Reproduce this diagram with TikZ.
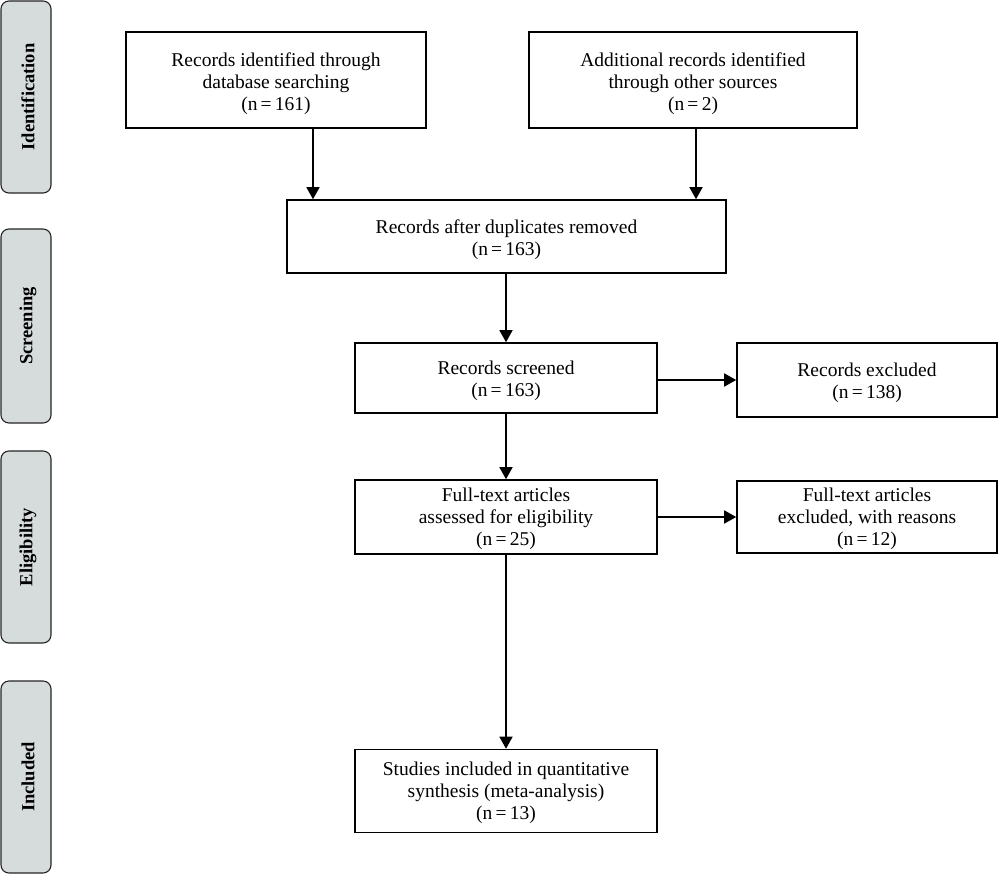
\documentclass[tikz,border=0pt]{standalone}
\usepackage{fontspec}
\setmainfont{Liberation Serif}
\usetikzlibrary{arrows.meta}
\definecolor{sidegray}{RGB}{214,220,220}
\begin{document}
\begin{tikzpicture}[x=1pt,y=-1pt,
  box/.style={draw=black,line width=1.6pt,rectangle,inner sep=0pt},
  boxtext/.style={align=center,inner sep=0pt,font=\fontsize{19.5}{22}\selectfont},
  side/.style={draw=black!85,line width=1.1pt,fill=sidegray,rounded corners=8pt,
    minimum width=50pt,inner sep=0pt},
  sidetext/.style={rotate=90,font=\fontsize{18.5}{21}\selectfont\bfseries},
  arr/.style={line width=1.6pt,-{Triangle[width=13pt,length=12pt]}}]
\useasboundingbox (0,0) rectangle (1000,875);
\fill[white] (0,0) rectangle (1000,875);
% side labels
\node[side,minimum height=192pt] (s1) at (26,97) {};
\node[sidetext] (t1) at ([xshift=2pt]s1.center) {Identification};
\node[side,minimum height=194pt] (s2) at (26,326) {};
\node[sidetext] (t2) at ([xshift=2pt]s2.center) {Screening};
\node[side,minimum height=192pt] (s3) at (26,547) {};
\node[sidetext] (t3) at ([xshift=2pt]s3.center) {Eligibility};
\node[side,minimum height=192pt] (s4) at (26,777) {};
\node[sidetext] (t4) at ([xshift=2pt]s4.center) {Included};
% boxes
\node[box,minimum width=300pt,minimum height=96pt] (b1) at (276,80) {};
\node[boxtext] (l1) at ([yshift=-4pt]b1.center)
  {Records identified through\\database searching\\(n\,=\,161)};
\node[box,minimum width=328pt,minimum height=96pt] (b2) at (693,80) {};
\node[boxtext] (l2) at ([yshift=-4pt]b2.center)
  {Additional records identified\\through other sources\\(n\,=\,2)};
\node[box,minimum width=439pt,minimum height=73pt] (b3) at (506.5,236.5) {};
\node[boxtext] (l3) at ([yshift=-3pt]b3.center)
  {Records after duplicates removed\\(n\,=\,163)};
\node[box,minimum width=302pt,minimum height=70pt] (b4) at (506,378) {};
\node[boxtext] (l4) at ([yshift=-3pt]b4.center)
  {Records screened\\(n\,=\,163)};
\node[box,minimum width=260pt,minimum height=74pt] (e1) at (867,380) {};
\node[boxtext] (l5) at ([yshift=-3pt]e1.center)
  {Records excluded\\(n\,=\,138)};
\node[box,minimum width=302pt,minimum height=74pt] (b5) at (506,517) {};
\node[boxtext] (l6) at ([yshift=-2pt]b5.center)
  {Full-text articles\\assessed for eligibility\\(n\,=\,25)};
\node[box,minimum width=260pt,minimum height=72pt] (e2) at (867,517) {};
\node[boxtext] (l7) at ([yshift=-2pt]e2.center)
  {Full-text articles\\excluded, with reasons\\(n\,=\,12)};
\node[box,minimum width=302pt,minimum height=83pt] (b6) at (506,791) {};
\node[boxtext] (l8) at ([yshift=-2pt]b6.center)
  {Studies included in quantitative\\synthesis (meta-analysis)\\(n\,=\,13)};
% connectors
\coordinate (c1) at (313,0);
\coordinate (c2) at (696,0);
\draw[arr] (b1.south -| c1) -- (b3.north -| c1);
\draw[arr] (b2.south -| c2) -- (b3.north -| c2);
\draw[arr] (b3.south -| b4.north) -- (b4.north);
\draw[arr] (b4.east |- e1.west) -- (e1.west);
\draw[arr] (b4.south) -- (b5.north);
\draw[arr] (b5.east |- e2.west) -- (e2.west);
\draw[arr] (b5.south) -- (b6.north);
\end{tikzpicture}
\end{document}
